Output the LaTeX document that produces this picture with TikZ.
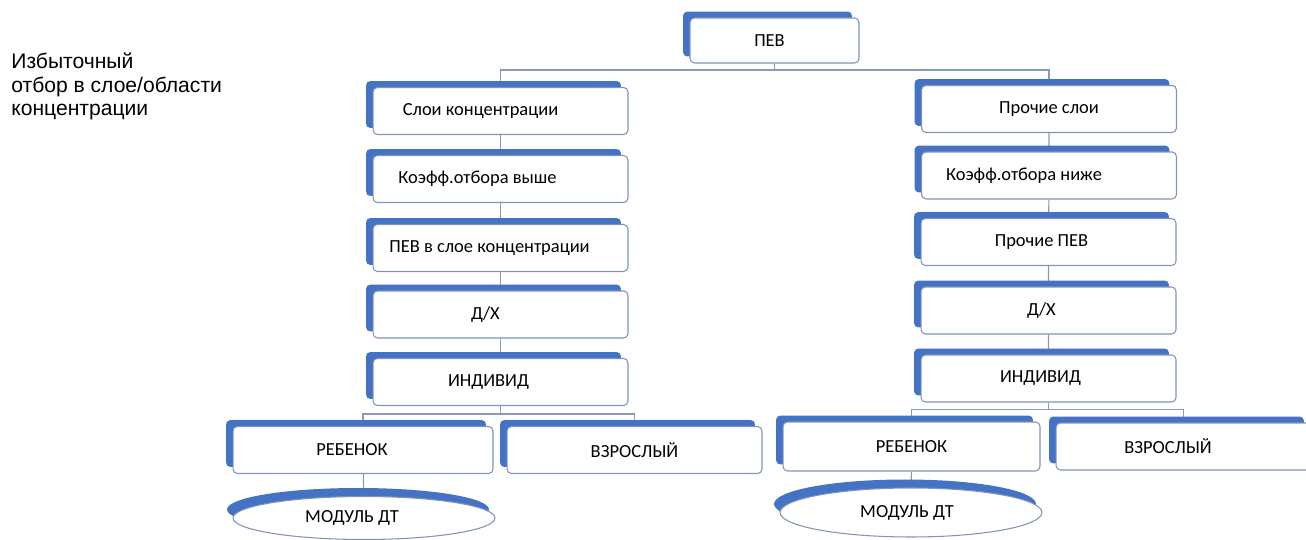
\documentclass[tikz,border=0pt]{standalone}
\usepackage{fontspec}
\setmainfont{Carlito}
\newfontfamily\notefont{Liberation Sans}
\usepackage{tikz}
\usetikzlibrary{shapes.geometric,shadows,backgrounds}

\definecolor{boxblue}{RGB}{68,114,196}
\definecolor{boxedge}{RGB}{128,148,184}
\definecolor{treeline}{RGB}{138,154,180}

\begin{document}
\begin{tikzpicture}[x=0.02cm,y=-0.02cm,
  box/.style={draw=boxedge,line width=0.6pt,fill=white,rounded corners=2.5pt,
    minimum width=5.1cm,minimum height=0.94cm,inner sep=0pt,
    font=\fontsize{10.5}{12}\selectfont,
    general shadow={fill=boxblue,shadow xshift=-0.14cm,shadow yshift=0.13cm}},
  oval/.style={draw=boxedge,line width=0.6pt,fill=white,ellipse,
    minimum width=5.24cm,minimum height=0.86cm,inner sep=0pt,
    font=\fontsize{10.5}{12}\selectfont,
    general shadow={fill=boxblue,shadow xshift=-0.12cm,shadow yshift=0.17cm}},
  tshift/.style={execute at begin node={\hspace*{#1}}},
  tree/.style={draw=treeline,line width=0.6pt}]

\useasboundingbox (0,0) rectangle (1306,540);
\clip (0,0) rectangle (1306,540);

% Left note
\node[anchor=north west,inner sep=0pt,align=left,
  font=\notefont\fontsize{12}{13.2}\selectfont] (note) at (11,53)
  {Избыточный\\отбор в слое/области\\концентрации};

% Root
\node[box,minimum width=3.38cm,minimum height=0.9cm,tshift=-0.2cm] (pev) at (774.5,40.5) {ПЕВ};

% Left branch
\node[box,tshift=-0.8cm] (sloiL) at (500.5,111) {Слои концентрации};
\node[box,tshift=-0.92cm] (koefL) at (500.5,179) {Коэфф.отбора выше};
\node[box,tshift=-0.44cm] (pevL) at (500.5,248) {ПЕВ в слое концентрации};
\node[box,tshift=-0.6cm] (dhL) at (500.5,314.5) {Д/Х};
\node[box,tshift=-0.48cm] (indL) at (500.5,382) {ИНДИВИД};
\node[box,minimum width=5.2cm,tshift=-0.44cm] (childL) at (363,450) {РЕБЕНОК};
\node[box] (adultL) at (634.5,450) {ВЗРОСЛЫЙ};
\node[oval,tshift=-0.48cm] (modL) at (364,518) {МОДУЛЬ ДТ};

% Right branch
\node[box] (sloiR) at (1049,109) {Прочие слои};
\node[box,tshift=-1.0cm] (koefR) at (1049,175.5) {Коэфф.отбора ниже};
\node[box,tshift=-0.28cm] (pevR) at (1048.5,242) {Прочие ПЕВ};
\node[box,tshift=-0.28cm] (dhR) at (1048.5,310.5) {Д/Х};
\node[box,tshift=-0.32cm] (indR) at (1048.5,378.5) {ИНДИВИД};
\node[box,minimum width=5.14cm,minimum height=0.98cm] (childR) at (911.5,446.5) {РЕБЕНОК};
\node[box,tshift=-0.62cm] (adultR) at (1183.5,446.5) {ВЗРОСЛЫЙ};
\node[oval,minimum height=0.98cm,tshift=-0.16cm] (modR) at (911,512.5) {МОДУЛЬ ДТ};

% Tree lines, behind the boxes
\begin{scope}[on background layer]
\draw[tree] (pev.south) -- ++(0,6.5) coordinate (split);
\draw[tree] (sloiL.north) |- (split) -| (sloiR.north);

\draw[tree] (sloiL) -- (koefL) -- (pevL) -- (dhL) -- (indL);
\draw[tree] (indL.south) -- ++(0,8) coordinate (forkL);
\draw[tree] (childL.north) |- (forkL) -| (adultL.north);
\draw[tree] (childL) -- (modL);

\draw[tree] (sloiR) -- (koefR) -- (pevR) -- (dhR) -- (indR);
\draw[tree] (indR.south) -- ++(0,7) coordinate (forkR);
\draw[tree] (childR.north) |- (forkR) -| (adultR.north);
\draw[tree] (childR) -- (modR);
\end{scope}

\end{tikzpicture}
\end{document}
